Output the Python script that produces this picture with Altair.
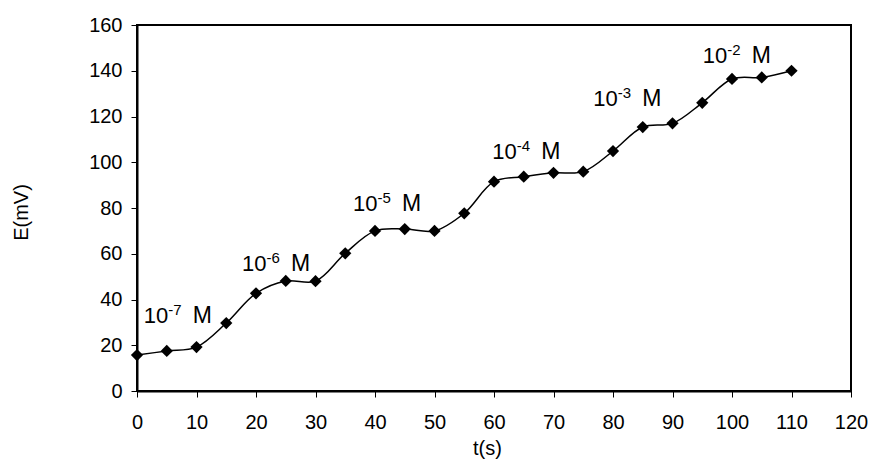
import altair as alt
import pandas as pd

# data
t_s = [0, 5, 10, 15, 20, 25, 30, 35, 40, 45, 50, 55, 60, 65, 70, 75, 80, 85, 90, 95, 100, 105, 110]
E_mV = [15.7, 17.5, 19.2, 29.7, 42.7, 48.1, 48.0, 60.2, 70.0, 70.8, 70.0, 77.7,
        91.5, 93.7, 95.4, 95.9, 104.9, 115.4, 117.0, 126.0, 136.4, 137.1, 140.0]

label_base = ["10", "10", "10", "10", "10", "10"]
label_exp = ["-7", "-6", "-5", "-4", "-3", "-2"]
label_unit = ["M", "M", "M", "M", "M", "M"]
label_x = [1.15, 17.65, 36.3, 59.7, 76.7, 95.1]
label_y = [29.9, 52.5, 78.6, 101.3, 124.7, 143.3]

x_ticks = list(range(0, 121, 10))
y_ticks = list(range(0, 161, 20))

df = pd.DataFrame({"t": t_s, "E": E_mV})
lab = pd.DataFrame({"x": label_x, "y": label_y, "base": label_base,
                    "exp": label_exp, "unit": label_unit})

FONT = "Liberation Sans"

xs = alt.Scale(domain=[0, 120], nice=False, zero=False)
ys = alt.Scale(domain=[0, 160], nice=False)

x_axis = alt.Axis(values=x_ticks, title="t(s)", grid=False, domainColor="black",
                  domainWidth=2, tickColor="black", tickSize=6, tickWidth=1,
                  labelFont=FONT, labelFontSize=20, labelColor="black", labelPadding=15,
                  titleFont=FONT, titleFontSize=20, titleFontWeight="normal",
                  titleColor="black", titleX=350, titleY=47, labelFlush=False)
y_axis = alt.Axis(values=y_ticks, title="E(mV)", grid=False, domainColor="black",
                  domainWidth=2, tickColor="black", tickSize=6, tickWidth=1,
                  labelFont=FONT, labelFontSize=20, labelColor="black", labelPadding=9,
                  titleFont=FONT, titleFontSize=20, titleFontWeight="normal",
                  titleColor="black", titleX=-106, titleY=187, labelFlush=False)

line = alt.Chart(df).mark_line(interpolate="catmull-rom", color="black", strokeWidth=1.5).encode(
    x=alt.X("t:Q", scale=xs, axis=x_axis),
    y=alt.Y("E:Q", scale=ys, axis=y_axis),
)
pts = alt.Chart(df).mark_point(shape="diamond", filled=True, color="black", size=150, opacity=1).encode(
    x=alt.X("t:Q", scale=xs),
    y=alt.Y("E:Q", scale=ys),
)

base_txt = alt.Chart(lab).mark_text(font=FONT, fontSize=22, align="left", baseline="alphabetic",
                                    color="black").encode(
    x=alt.X("x:Q", scale=xs), y=alt.Y("y:Q", scale=ys), text="base:N")
exp_txt = alt.Chart(lab).mark_text(font=FONT, fontSize=15, align="left", baseline="alphabetic",
                                   color="black", dx=24.5, dy=-8).encode(
    x=alt.X("x:Q", scale=xs), y=alt.Y("y:Q", scale=ys), text="exp:N")
unit_txt = alt.Chart(lab).mark_text(font=FONT, fontSize=23, align="left", baseline="alphabetic",
                                    color="black", dx=49).encode(
    x=alt.X("x:Q", scale=xs), y=alt.Y("y:Q", scale=ys), text="unit:N")

chart = alt.layer(line, pts, base_txt, exp_txt, unit_txt).properties(
    width=714, height=366,
    autosize=alt.AutoSizeParams(type="none"),
    padding={"left": 129, "top": 17, "right": 18, "bottom": 68},
    background="white",
).configure_view(stroke="black", strokeWidth=2)

chart.save("out.html", embed_options={"renderer": "svg", "actions": False})
